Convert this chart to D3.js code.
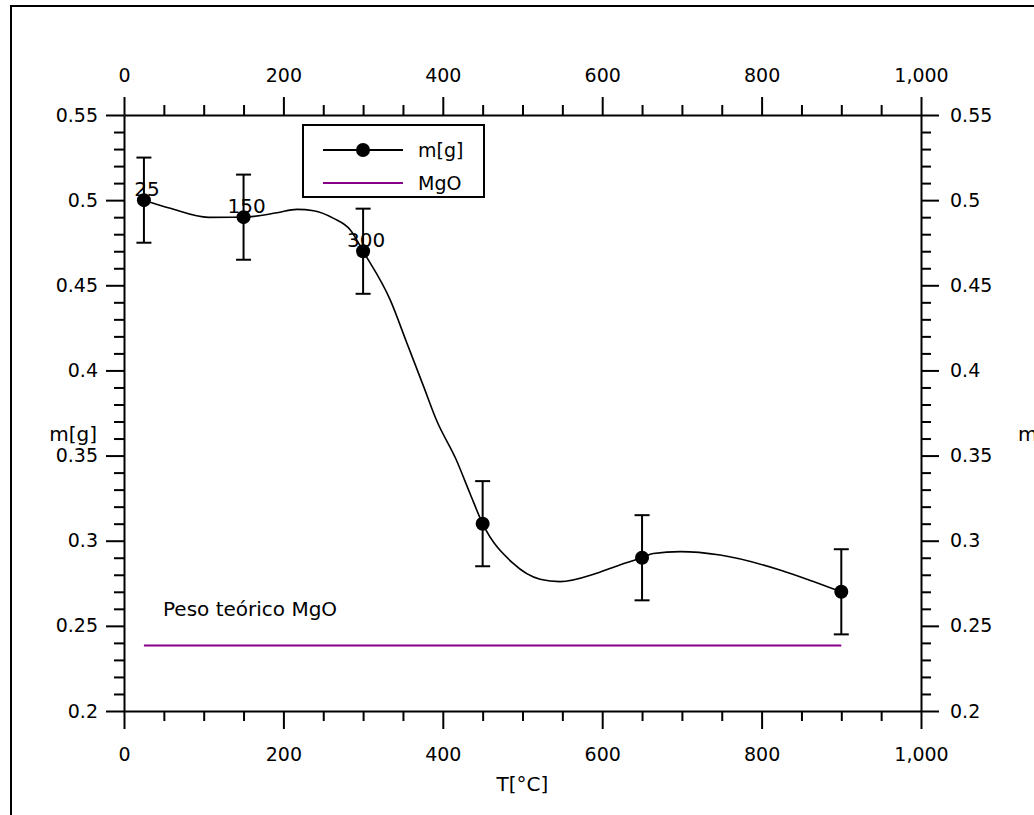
<!DOCTYPE html>
<html lang="en">
    <head>
        <meta charset="utf-8">
        <title>m[g] vs T[°C]</title>
        <script type="text/javascript" src="https://d3js.org/d3.v7.min.js"></script>
        <style type="text/css">
            body { margin: 0; background: #fff; }
            text { font-family: "DejaVu Sans", Verdana, sans-serif; fill: #000; }
            .axis path, .axis line { stroke: #000; stroke-width: 2px; }
            .axis text { font-size: 19px; }
        </style>
    </head>
    <body>
        <div id="chart"></div>
        <script type="text/javascript">
            // measured points (temperature, mass) and error
            const temps = [25, 150, 300, 450, 650, 900];
            const masses = [0.5, 0.49, 0.47, 0.31, 0.29, 0.27];
            const errors = [0.025, 0.025, 0.025, 0.025, 0.025, 0.025];
            const pointLabels = ["25", "150", "300", "", "", ""];

            // smoothed curve
            const curveT = [25, 58, 106, 150, 192, 217, 238, 263, 284, 300, 334, 355, 376, 392, 417, 434, 450, 488, 522, 547, 593, 622, 650, 664, 698, 748, 823, 865, 900];
            const curveM = [0.5, 0.4952, 0.4899, 0.49, 0.4926, 0.4946, 0.4938, 0.4893, 0.4825, 0.47, 0.4414, 0.416, 0.3905, 0.3709, 0.3474, 0.3279, 0.31, 0.2868, 0.2774, 0.276, 0.2809, 0.2858, 0.29, 0.2925, 0.2936, 0.2916, 0.2828, 0.276, 0.27];

            // theoretical MgO weight
            const mgoT = [25, 900];
            const mgoM = [0.2385, 0.2385];

            const xMajor = [0, 200, 400, 600, 800, 1000];
            const yMajor = [0.2, 0.25, 0.3, 0.35, 0.4, 0.45, 0.5, 0.55];

            const width = 1034, height = 815;
            const plotL = 124, plotR = 921, plotT = 115, plotB = 711;

            const svg = d3.select("#chart")
                .append("svg")
                .attr("width", width)
                .attr("height", height);

            // outer frame
            svg.append("rect")
                .attr("x", 11).attr("y", 6)
                .attr("width", 1040).attr("height", 830)
                .attr("fill", "none")
                .attr("stroke", "#000")
                .attr("stroke-width", 2);

            const xScale = d3.scaleLinear().domain([0, 1000]).range([plotL, plotR]);
            const yScale = d3.scaleLinear().domain([0.2, 0.55]).range([plotB, plotT]);

            const xMinor = d3.range(0, 1001, 50).filter(v => v % 200 !== 0);
            const yMinor = d3.range(20, 56).map(v => v / 100).filter(v => Math.round(v * 100) % 5 !== 0);

            const fmtX = d3.format(",");
            const fmtY = d => String(+d.toFixed(2));

            function addAxis(axisFn, scale, transform, major, minor, fmt, pad) {
                const g = svg.append("g").attr("class", "axis").attr("transform", transform);
                g.call(axisFn(scale).tickValues(minor).tickSizeInner(10).tickSizeOuter(0).tickFormat(""));
                const g2 = svg.append("g").attr("class", "axis").attr("transform", transform);
                g2.call(axisFn(scale).tickValues(major).tickSizeInner(18).tickSizeOuter(0).tickPadding(pad).tickFormat(fmt));
                g2.select(".domain").remove();
                return g2;
            }

            addAxis(d3.axisBottom, xScale, "translate(0," + plotB + ")", xMajor, xMinor, fmtX, 19);
            addAxis(d3.axisTop, xScale, "translate(0," + plotT + ")", xMajor, xMinor, fmtX, 15);
            addAxis(d3.axisLeft, yScale, "translate(" + plotL + ",0)", yMajor, yMinor, fmtY, 8);
            addAxis(d3.axisRight, yScale, "translate(" + plotR + ",0)", yMajor, yMinor, fmtY, 11);
            svg.selectAll(".axis text").attr("fill", "#000");

            // axis titles
            svg.append("text")
                .attr("x", (plotL + plotR) / 2).attr("y", 791)
                .attr("text-anchor", "middle")
                .style("font-size", "20px")
                .text("T[°C]");
            svg.append("text")
                .attr("x", 97).attr("y", 441)
                .attr("text-anchor", "end")
                .style("font-size", "20px")
                .text("m[g]");
            svg.append("text")
                .attr("x", 1018).attr("y", 441)
                .style("font-size", "20px")
                .text("m[g]");

            // MgO line
            const mgo = mgoT.map((t, i) => [t, mgoM[i]]);
            svg.append("path")
                .datum(mgo)
                .attr("fill", "none")
                .attr("stroke", "#880088")
                .attr("stroke-width", 2)
                .attr("d", d3.line().x(d => xScale(d[0])).y(d => yScale(d[1])));

            svg.append("text")
                .attr("x", 163).attr("y", 616)
                .style("font-size", "20px")
                .text("Peso teórico MgO");

            // smoothed curve
            const curve = curveT.map((t, i) => [t, curveM[i]]);
            svg.append("path")
                .datum(curve)
                .attr("fill", "none")
                .attr("stroke", "#000")
                .attr("stroke-width", 1.6)
                .attr("d", d3.line().curve(d3.curveMonotoneX).x(d => xScale(d[0])).y(d => yScale(d[1])));

            const pts = temps.map((t, i) => ({t: t, m: masses[i], e: errors[i], label: pointLabels[i]}));

            // error bars
            const eb = svg.append("g").attr("stroke", "#000").attr("stroke-width", 2);
            pts.forEach(d => {
                const x = xScale(d.t);
                eb.append("line").attr("x1", x).attr("x2", x).attr("y1", yScale(d.m - d.e)).attr("y2", yScale(d.m + d.e));
                eb.append("line").attr("x1", x - 7.5).attr("x2", x + 7.5).attr("y1", yScale(d.m - d.e)).attr("y2", yScale(d.m - d.e));
                eb.append("line").attr("x1", x - 7.5).attr("x2", x + 7.5).attr("y1", yScale(d.m + d.e)).attr("y2", yScale(d.m + d.e));
            });

            svg.append("g").selectAll("circle")
                .data(pts)
                .enter()
                .append("circle")
                .attr("cx", d => xScale(d.t))
                .attr("cy", d => yScale(d.m))
                .attr("r", 7)
                .attr("fill", "#000");

            svg.append("g").selectAll("text")
                .data(pts.filter(d => d.label))
                .enter()
                .append("text")
                .attr("x", d => xScale(d.t) + 3)
                .attr("y", d => yScale(d.m) - 4)
                .attr("text-anchor", "middle")
                .style("font-size", "20px")
                .text(d => d.label);

            // legend
            const lg = svg.append("g");
            lg.append("rect")
                .attr("x", 303).attr("y", 125)
                .attr("width", 181).attr("height", 72)
                .attr("fill", "#fff")
                .attr("stroke", "#000")
                .attr("stroke-width", 2);
            lg.append("line").attr("x1", 323).attr("x2", 403).attr("y1", 150).attr("y2", 150)
                .attr("stroke", "#000").attr("stroke-width", 2);
            lg.append("circle").attr("cx", 363).attr("cy", 150).attr("r", 7).attr("fill", "#000");
            lg.append("line").attr("x1", 323).attr("x2", 403).attr("y1", 183).attr("y2", 183)
                .attr("stroke", "#880088").attr("stroke-width", 2);
            lg.append("text").attr("x", 418).attr("y", 157).style("font-size", "19px").text("m[g]");
            lg.append("text").attr("x", 418).attr("y", 190).style("font-size", "19px").text("MgO");
        </script>
    </body>
</html>
